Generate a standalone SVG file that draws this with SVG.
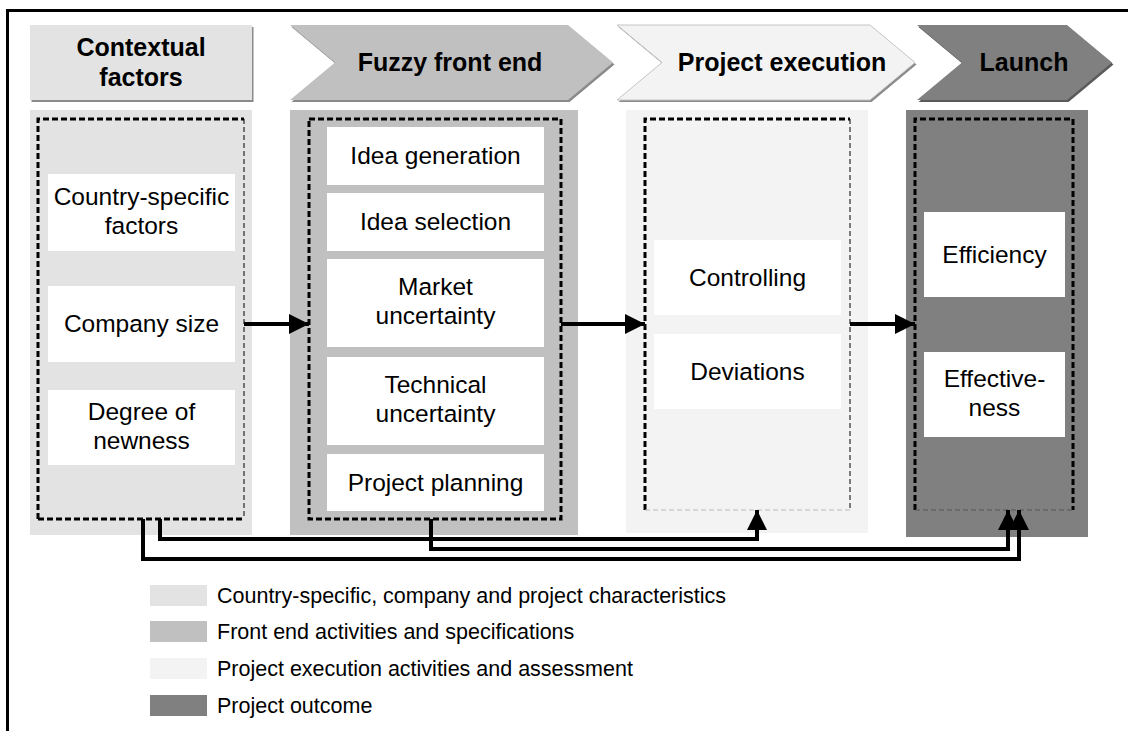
<svg xmlns="http://www.w3.org/2000/svg" width="1128" height="731" viewBox="0 0 1128 731">
<style>
text{font-family:"Liberation Sans",Arial,sans-serif;fill:#000}
.h{font-size:25px;font-weight:bold;text-anchor:middle}
.b{font-size:24.5px;text-anchor:middle}
.l{font-size:21.5px}
.wb{fill:#fff}
.dk{stroke:#000;stroke-width:3;stroke-dasharray:6 3;fill:none}
.dt{stroke:#000;stroke-width:1;stroke-dasharray:5 3;fill:none}
.dg{stroke:#bbb;stroke-width:1;stroke-dasharray:5 3;fill:none}
.dg2{stroke:#555;stroke-width:1;stroke-dasharray:5 3;fill:none}
.sh{fill:#8a8a8a}
.con{stroke:#000;stroke-width:4;fill:none}
</style>
<defs>
<marker id="ah" viewBox="0 0 10 10" refX="10" refY="5" markerWidth="5" markerHeight="5" orient="auto" markerUnits="strokeWidth">
<path d="M0,0 L10,5 L0,10 z" fill="#000"/>
</marker>
</defs>
<rect width="1128" height="731" fill="#fff"/>
<path d="M7.5,731 V10.5 H1128" fill="none" stroke="#000" stroke-width="3"/>

<g id="header-contextual">
<rect x="31.5" y="27" width="222" height="75" class="sh"/>
<rect x="30" y="25" width="222" height="75" fill="#e3e3e3"/>
<text class="h" x="141" y="56">Contextual</text>
<text class="h" x="141" y="86">factors</text>
</g>
<g id="header-fuzzy">
<polygon points="291.5,27 569.5,27 614.5,64.5 569.5,102 291.5,102 336.5,64.5" class="sh"/>
<polygon points="290,25 568,25 613,62.5 568,100 290,100 335,62.5" fill="#c0c0c0"/>
<text class="h" x="450" y="71">Fuzzy front end</text>
</g>
<g id="header-execution">
<polygon points="618.5,27 871.5,27 916.5,64.5 871.5,102 618.5,102 663.5,64.5" class="sh"/>
<polygon points="617,25 870,25 915,62.5 870,100 617,100 662,62.5" fill="#f3f3f3" stroke="#c4c4c4" stroke-width="1"/>
<text class="h" x="782" y="71">Project execution</text>
</g>
<g id="header-launch">
<polygon points="918.5,27 1068.5,27 1113.5,64.5 1068.5,102 918.5,102 963.5,64.5" fill="#5a5a5a"/>
<polygon points="917,25 1067,25 1112,62.5 1067,100 917,100 962,62.5" fill="#808080"/>
<text class="h" x="1024" y="71">Launch</text>
</g>

<g id="panel-contextual">
<rect x="30" y="110" width="222" height="425" fill="#e3e3e3"/>
<path d="M38,519 V119 H244" class="dk"/>
<path d="M38,519 H244" class="dk"/>
<path d="M244,119 V519" class="dt"/>
</g>
<g id="node-country">
<rect x="48" y="174" width="187" height="77" class="wb"/>
<text class="b" x="141.5" y="205">Country-specific</text>
<text class="b" x="141.5" y="234">factors</text>
</g>
<g id="node-size">
<rect x="48" y="286" width="187" height="76" class="wb"/>
<text class="b" x="141.5" y="332">Company size</text>
</g>
<g id="node-newness">
<rect x="48" y="390" width="187" height="75" class="wb"/>
<text class="b" x="141.5" y="420">Degree of</text>
<text class="b" x="141.5" y="449">newness</text>
</g>

<g id="panel-fuzzy">
<rect x="290" y="110" width="288" height="425" fill="#c0c0c0"/>
<rect x="309" y="119" width="252" height="400" class="dk"/>
</g>
<g id="node-ideagen">
<rect x="327" y="127" width="217" height="58" class="wb"/>
<text class="b" x="435.5" y="164">Idea generation</text>
</g>
<g id="node-ideasel">
<rect x="327" y="193" width="217" height="58" class="wb"/>
<text class="b" x="435.5" y="230">Idea selection</text>
</g>
<g id="node-market">
<rect x="327" y="259" width="217" height="88" class="wb"/>
<text class="b" x="435.5" y="295">Market</text>
<text class="b" x="435.5" y="324">uncertainty</text>
</g>
<g id="node-technical">
<rect x="327" y="357" width="217" height="88" class="wb"/>
<text class="b" x="435.5" y="393">Technical</text>
<text class="b" x="435.5" y="422">uncertainty</text>
</g>
<g id="node-planning">
<rect x="327" y="454" width="217" height="57" class="wb"/>
<text class="b" x="435.5" y="491">Project planning</text>
</g>

<g id="panel-execution">
<rect x="626" y="110" width="242" height="423" fill="#f3f3f3"/>
<path d="M645,510 V119 H850" class="dk"/>
<path d="M850,119 V510" class="dt"/>
<path d="M645,510 H850" class="dg"/>
</g>
<g id="node-controlling">
<rect x="654" y="240" width="187" height="75" class="wb"/>
<text class="b" x="747.5" y="286">Controlling</text>
</g>
<g id="node-deviations">
<rect x="654" y="334" width="187" height="75" class="wb"/>
<text class="b" x="747.5" y="380">Deviations</text>
</g>

<g id="panel-launch">
<rect x="906" y="110" width="182" height="427" fill="#808080"/>
<path d="M915,510 V119 H1073 V510" class="dk"/>
<path d="M915,510 H1073" class="dg2"/>
</g>
<g id="node-efficiency">
<rect x="924" y="212" width="141" height="85" class="wb"/>
<text class="b" x="994.5" y="263">Efficiency</text>
</g>
<g id="node-effectiveness">
<rect x="924" y="352" width="141" height="85" class="wb"/>
<text class="b" x="994.5" y="387">Effective-</text>
<text class="b" x="994.5" y="416">ness</text>
</g>

<g id="connectors">
<path d="M244,324 H309" class="con" marker-end="url(#ah)"/>
<path d="M561,324 H645" class="con" marker-end="url(#ah)"/>
<path d="M850,324 H915" class="con" marker-end="url(#ah)"/>
<path d="M160,519 V539 H757 V510" class="con" marker-end="url(#ah)"/>
<path d="M431,519 V549 H1008 V510" class="con" marker-end="url(#ah)"/>
<path d="M143,519 V559 H1019 V510" class="con" marker-end="url(#ah)"/>
</g>

<g id="legend">
<rect x="150" y="585" width="57" height="21" fill="#e3e3e3"/>
<text class="l" x="217" y="603">Country-specific, company and project characteristics</text>
<rect x="150" y="621" width="57" height="21" fill="#c0c0c0"/>
<text class="l" x="217" y="639">Front end activities and specifications</text>
<rect x="150" y="658" width="57" height="21" fill="#f3f3f3"/>
<text class="l" x="217" y="676">Project execution activities and assessment</text>
<rect x="150" y="695" width="57" height="21" fill="#808080"/>
<text class="l" x="217" y="713">Project outcome</text>
</g>
</svg>
